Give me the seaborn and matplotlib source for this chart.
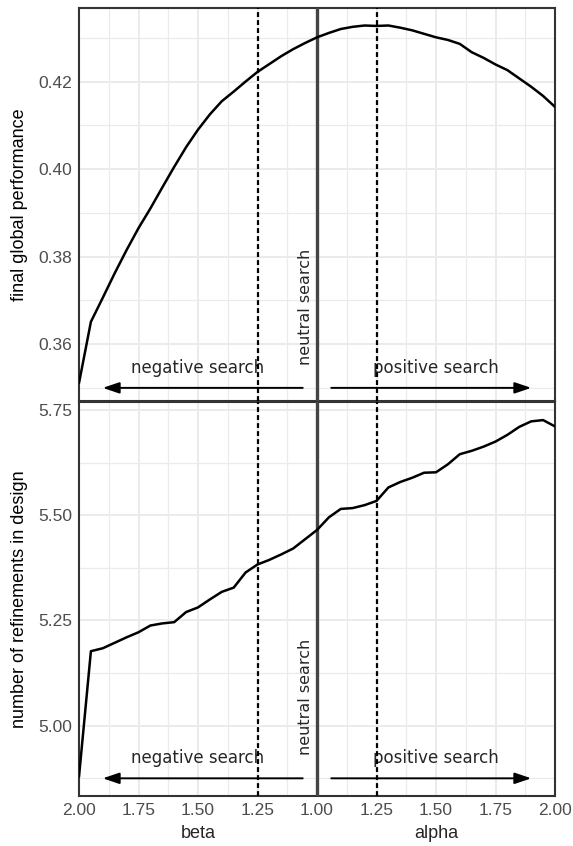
import pandas as pd
import matplotlib.pyplot as plt
import matplotlib.transforms as mtransforms
from matplotlib.ticker import FixedLocator
import seaborn as sns

# -----------------------------
# Data
# -----------------------------
beta_vals = [2.00, 1.95, 1.90, 1.85, 1.80, 1.75, 1.70, 1.65, 1.60, 1.55, 1.50,
             1.45, 1.40, 1.35, 1.30, 1.25, 1.20, 1.15, 1.10, 1.05, 1.00]
alpha_vals = [1.00, 1.05, 1.10, 1.15, 1.20, 1.25, 1.30, 1.35, 1.40, 1.45, 1.50,
              1.55, 1.60, 1.65, 1.70, 1.75, 1.80, 1.85, 1.90, 1.95, 2.00]

perf_beta = [0.3511, 0.3651, 0.3706, 0.3762, 0.3815, 0.3865, 0.3910, 0.3958, 0.4005, 0.4050, 0.4090,
             0.4125, 0.4155, 0.4177, 0.4200, 0.4222, 0.4240, 0.4258, 0.4274, 0.4288, 0.4301]
perf_alpha = [0.4301, 0.4311, 0.4320, 0.4325, 0.4328, 0.4327, 0.4328, 0.4323, 0.4317, 0.4309, 0.4301,
              0.4295, 0.4286, 0.4267, 0.4254, 0.4239, 0.4226, 0.4207, 0.4188, 0.4167, 0.4142]

refine_beta = [4.879, 5.177, 5.184, 5.197, 5.210, 5.222, 5.238, 5.243, 5.246, 5.270, 5.281,
               5.300, 5.318, 5.328, 5.364, 5.383, 5.394, 5.407, 5.421, 5.443, 5.465]
refine_alpha = [5.465, 5.495, 5.515, 5.517, 5.524, 5.534, 5.566, 5.579, 5.589, 5.601, 5.602,
                5.621, 5.645, 5.653, 5.663, 5.675, 5.691, 5.710, 5.723, 5.726, 5.711]

x_tick_pos = [-1.0, -0.75, -0.5, -0.25, 0.0, 0.25, 0.5, 0.75, 1.0]
x_tick_labels = ["2.00", "1.75", "1.50", "1.25", "1.00", "1.25", "1.50", "1.75", "2.00"]

perf_ticks = [0.36, 0.38, 0.40, 0.42]
perf_minor = [0.35, 0.37, 0.39, 0.41, 0.43]
refine_ticks = [5.00, 5.25, 5.50, 5.75]
refine_minor = [4.875, 5.125, 5.375, 5.625]

BORDER = "#333333"
GRID = "#EBEBEB"
TICK_TXT = "#4D4D4D"


def build_frame():
    # beta side goes to the left (negative), alpha side to the right
    left = pd.DataFrame({"x": [-(b - 1) for b in beta_vals],
                         "perf": perf_beta, "refine": refine_beta})
    right = pd.DataFrame({"x": [a - 1 for a in alpha_vals],
                          "perf": perf_alpha, "refine": refine_alpha})
    return pd.concat([left, right.iloc[1:]], ignore_index=True)


def style_panel(ax, yticks, yminor, ylim, ylabel, show_x):
    ax.set_xlim(-1, 1)
    ax.set_ylim(*ylim)
    ax.set_xticks(x_tick_pos)
    ax.xaxis.set_minor_locator(FixedLocator([-0.875, -0.625, -0.375, -0.125,
                                             0.125, 0.375, 0.625, 0.875]))
    ax.set_yticks(yticks)
    ax.yaxis.set_minor_locator(FixedLocator(yminor))
    ax.grid(which="major", color=GRID, lw=1.4, zorder=0)
    ax.grid(which="minor", color=GRID, lw=0.9, zorder=0)
    ax.set_axisbelow(True)
    for s in ax.spines.values():
        s.set_color(BORDER)
        s.set_linewidth(1.5)
        s.set_visible(True)
    ax.tick_params(axis="both", which="major", direction="out", length=3,
                   width=1.1, color=BORDER, labelcolor=TICK_TXT, labelsize=12.5, pad=2)
    ax.tick_params(axis="both", which="minor", length=0)
    if show_x:
        ax.set_xticklabels(x_tick_labels)
    else:
        ax.tick_params(axis="x", which="major", length=0, labelbottom=False)
    ax.set_xlabel("")
    ax.set_ylabel(ylabel, fontsize=13, color="black")
    ax.yaxis.set_label_coords(-0.107, 0.5)


def add_annotations(ax, arrow_y, text_y, neutral_y):
    ax.axvline(0, color="#444444", lw=2.4, zorder=3)
    for xv in (-0.25, 0.25):
        ax.axvline(xv, color="black", lw=1.6, ls=(0, (2.2, 1.4)), zorder=5)
    style = "-|>,head_length=0.5,head_width=0.17"
    for x0, x1 in ((-0.06, -0.9), (0.06, 0.9)):
        ax.annotate("", xy=(x1, arrow_y), xytext=(x0, arrow_y),
                    arrowprops=dict(arrowstyle=style, color="black", lw=1.4,
                                    mutation_scale=20, shrinkA=0, shrinkB=0),
                    zorder=4)
    ax.text(-0.5, text_y, "negative search", ha="center", va="center",
            fontsize=12, family="DejaVu Sans", zorder=4)
    ax.text(0.5, text_y, "positive search", ha="center", va="center",
            fontsize=12, family="DejaVu Sans", zorder=4)
    ax.annotate("neutral search", xy=(0, neutral_y), xytext=(-3, 0),
                textcoords="offset points", rotation=90, ha="right", va="bottom",
                fontsize=11.5, family="DejaVu Sans", zorder=4)


def main():
    sns.set_style("white")
    plt.rcParams["font.family"] = ["Liberation Sans", "DejaVu Sans"]

    df = build_frame()

    fig = plt.figure(figsize=(5.73, 8.46), dpi=100)
    ax1 = fig.add_axes([79 / 573, 1 - 401 / 846, 476 / 573, 393 / 846])
    ax2 = fig.add_axes([79 / 573, 1 - 796 / 846, 476 / 573, 394 / 846])

    sns.lineplot(data=df, x="x", y="perf", ax=ax1, color="black", lw=1.8,
                 errorbar=None, zorder=4)
    sns.lineplot(data=df, x="x", y="refine", ax=ax2, color="black", lw=1.8,
                 errorbar=None, zorder=4)

    style_panel(ax1, perf_ticks, perf_minor, (0.347, 0.4368),
                "final global performance", show_x=False)
    style_panel(ax2, refine_ticks, refine_minor, (4.833, 5.769),
                "number of refinements in design", show_x=True)

    add_annotations(ax1, 0.350, 0.3546, 0.3552)
    add_annotations(ax2, 4.875, 4.923, 4.931)

    trans = mtransforms.blended_transform_factory(ax2.transData, ax2.transAxes)
    ax2.text(-0.5, -0.094, "beta", transform=trans, ha="center", va="center",
             fontsize=13)
    ax2.text(0.5, -0.094, "alpha", transform=trans, ha="center", va="center",
             fontsize=13)

    fig.savefig("out.png", dpi=100)


if __name__ == "__main__":
    main()
